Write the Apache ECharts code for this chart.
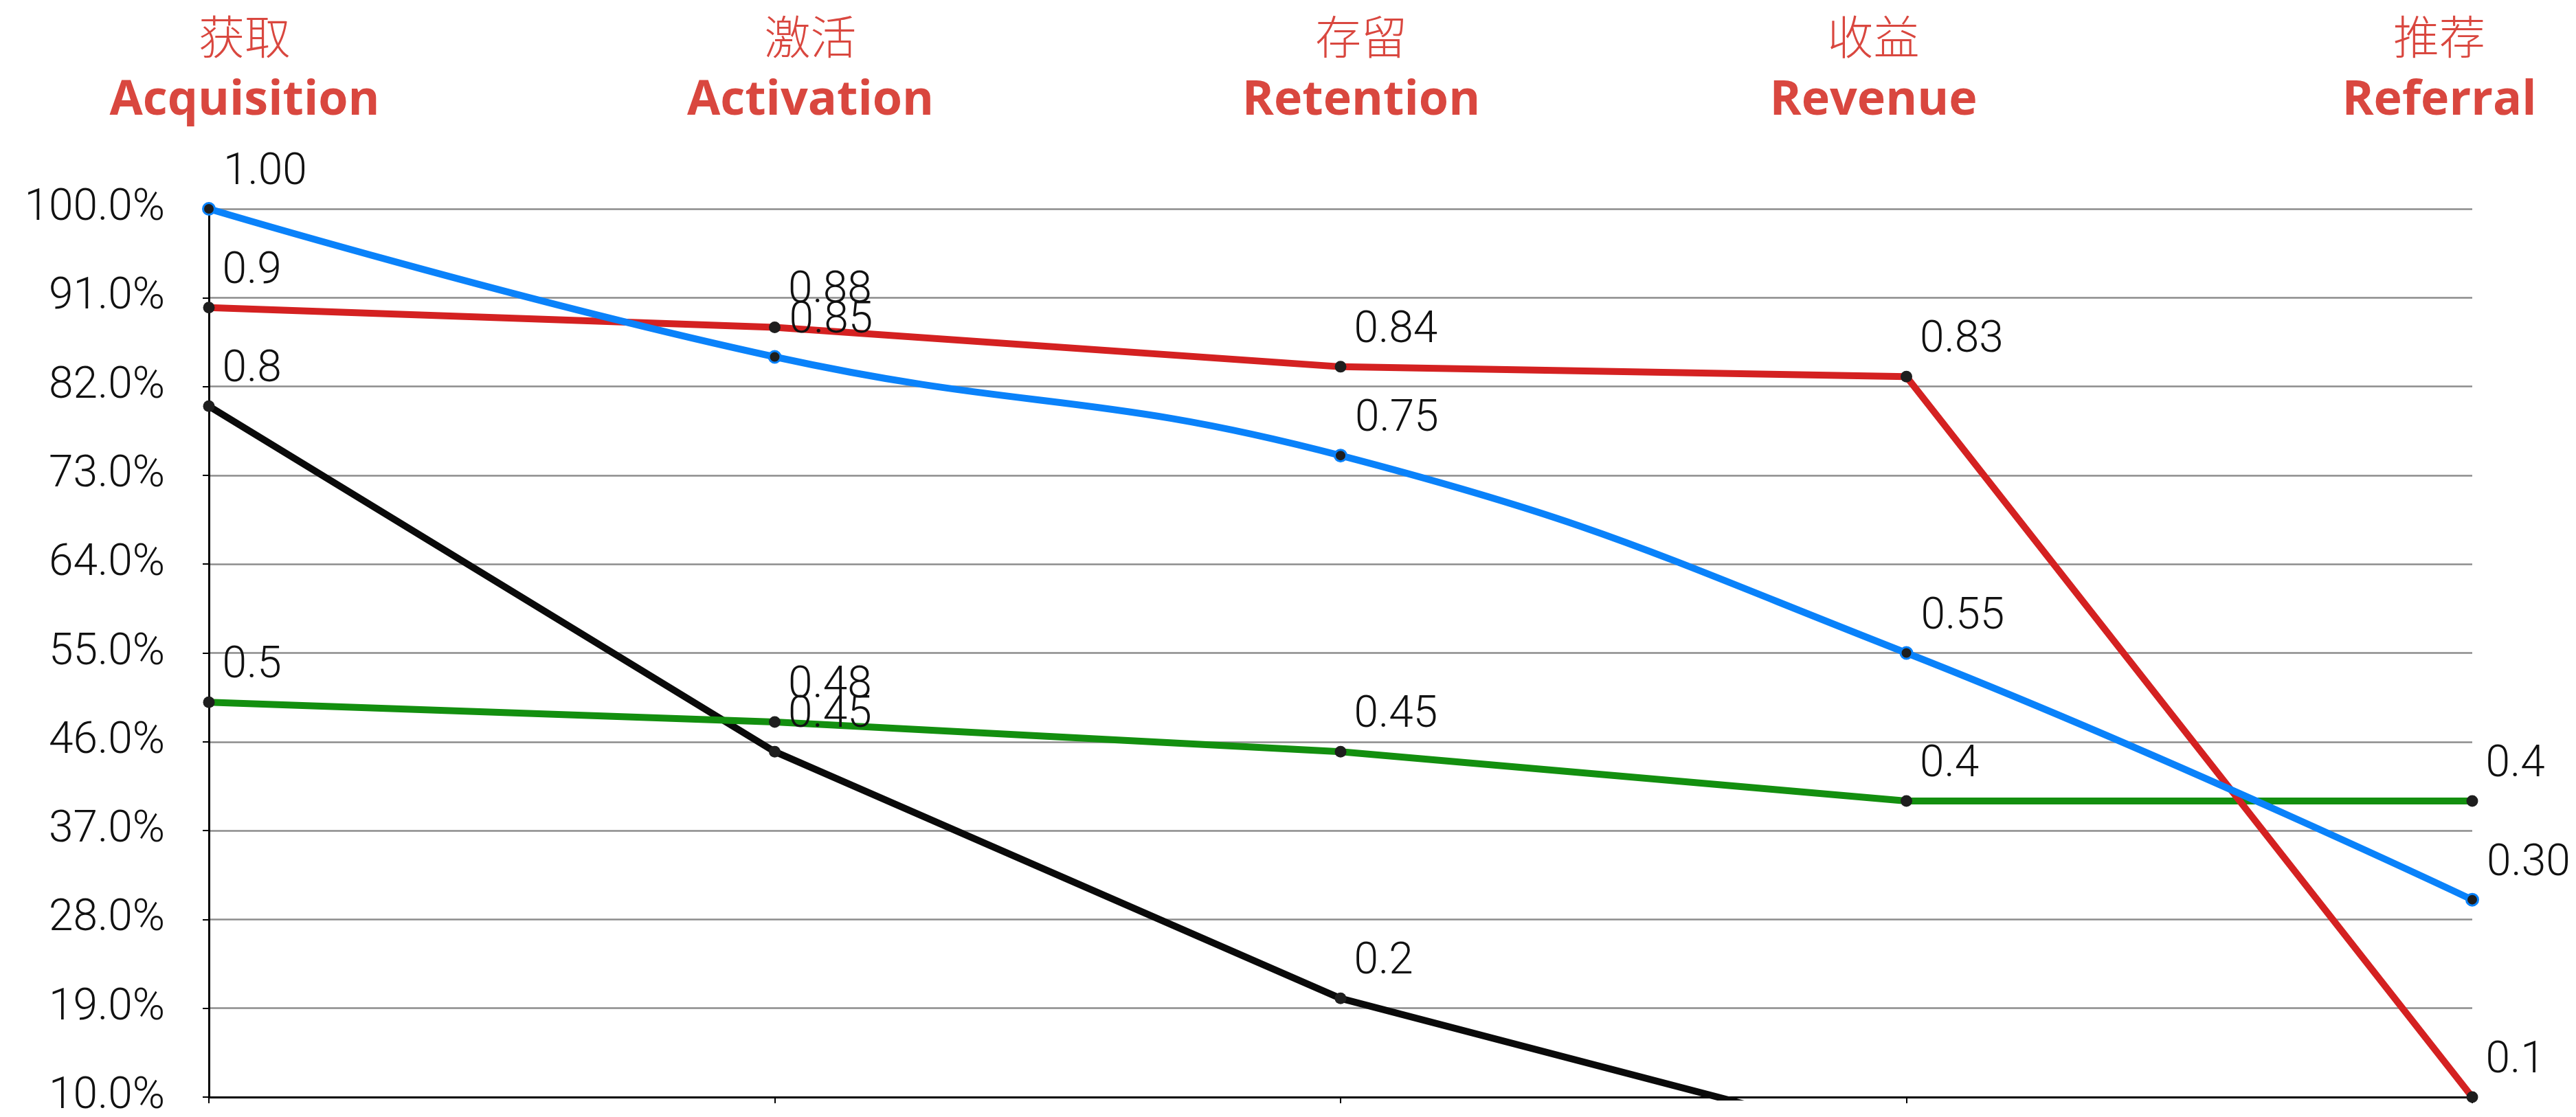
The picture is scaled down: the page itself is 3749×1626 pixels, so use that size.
<!DOCTYPE html>
<html>
<head>
<meta charset="utf-8">
<script src="https://cdn.jsdelivr.net/npm/echarts@6/dist/echarts.min.js"></script>
<style>
html,body{margin:0;padding:0;background:#fff;overflow:hidden;}
#chart{width:3749px;height:1626px;}
</style>
</head>
<body>
<div id="chart"></div>
<script>
// ---- data ----
const categoriesCn = ['获取', '激活', '存留', '收益', '推荐'];
const categoriesEn = ['Acquisition', 'Activation', 'Retention', 'Revenue', 'Referral'];
const blueValues  = [1.00, 0.85, 0.75, 0.55, 0.30];
const redValues   = [0.9, 0.88, 0.84, 0.83, 0.1];
const greenValues = [0.5, 0.48, 0.45, 0.4, 0.4];
const blackValues = [0.8, 0.45, 0.2, 0.05, 0.0];
const yMin = 0.1, yMax = 1.0, yStep = 0.09;

// ---- layout (not data) ----
const labelShift = [52, 52, 30, -48, -48];

const chart = echarts.init(document.getElementById('chart'), null, {renderer: 'canvas'});

const rich = {};
labelShift.forEach((s, i) => {
  const pad = s >= 0 ? [0, 0, 0, 2 * s] : [0, -2 * s, 0, 0];
  rich['c' + i] = {fontFamily: '"Noto Sans CJK SC"', fontWeight: 300, fontSize: 67, lineHeight: 100, color: '#d9473f', align: 'center', padding: pad};
  rich['e' + i] = {fontFamily: '"Open Sans"', fontWeight: 'bold', fontSize: 70, lineHeight: 86, color: '#d9473f', align: 'center', padding: pad};
});

const numFont = {fontFamily: 'Roboto', fontWeight: 300, fontSize: 64, color: '#111'};

function mkSeries(name, values, color, fmt, smooth, border) {
  return {
    name: name,
    type: 'line',
    xAxisIndex: 0,
    data: values,
    smooth: smooth,
    symbol: 'circle',
    symbolSize: 17,
    lineStyle: {color: color, width: 10},
    itemStyle: {color: '#1e1e1e', borderColor: border ? color : '#1e1e1e', borderWidth: border ? 3 : 0},
    label: Object.assign({
      show: true,
      position: 'right',
      distance: 11,
      offset: [0, -52],
      formatter: p => fmt(p.value)
    }, numFont),
    emphasis: {disabled: true},
    clip: true
  };
}

const option = {
  animation: false,
  backgroundColor: '#fff',
  grid: {left: 304, right: 151, top: 304, bottom: 29, containLabel: false, outerBoundsMode: 'none'},
  xAxis: [
    {
      type: 'category', position: 'bottom', data: categoriesEn, boundaryGap: false,
      axisLine: {show: true, lineStyle: {color: '#000', width: 3}},
      axisTick: {show: true, length: 9, lineStyle: {color: '#000', width: 2}},
      axisLabel: {show: false},
      splitLine: {show: false}
    },
    {
      type: 'category', position: 'top', data: categoriesEn, boundaryGap: false,
      axisLine: {show: false}, axisTick: {show: false}, splitLine: {show: false},
      axisLabel: {
        show: true, margin: 114, interval: 0, hideOverlap: false,
        formatter: (v, i) => '{c' + i + '|' + categoriesCn[i] + '}\n{e' + i + '|' + categoriesEn[i] + '}',
        rich: rich
      }
    }
  ],
  yAxis: {
    type: 'value', min: yMin, max: yMax, interval: yStep,
    axisLine: {show: true, lineStyle: {color: '#000', width: 3}},
    axisTick: {show: true, length: 9, lineStyle: {color: '#000', width: 2}},
    splitLine: {show: true, lineStyle: {color: '#8c8c8c', width: 2.5}},
    axisLabel: Object.assign({margin: 64, formatter: v => (v * 100).toFixed(1) + '%'}, numFont)
  },
  series: [
    mkSeries('black', blackValues, '#0a0a0a', v => String(v), false, false),
    mkSeries('green', greenValues, '#138f0f', v => String(v), false, false),
    mkSeries('red', redValues, '#d42121', v => String(v), false, false),
    mkSeries('blue', blueValues, '#0a82fa', v => v.toFixed(2), 0.45, true)
  ]
};
chart.setOption(option);
</script>
</body>
</html>
